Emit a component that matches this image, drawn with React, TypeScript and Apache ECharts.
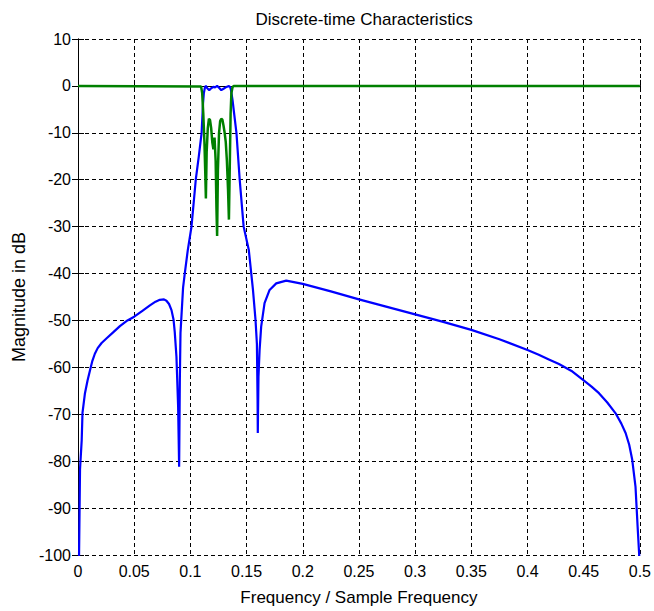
import React, { useEffect, useRef } from "react";
import * as echarts from "echarts";

const titleText = "Discrete-time Characteristics";
const xName = "Frequency / Sample Frequency";
const yName = "Magnitude in dB";

// Blue: filter magnitude response (dB)
const blueFreq = [
  0, 0.0018, 0.0033, 0.004, 0.0062, 0.0085, 0.0107, 0.0128, 0.015, 0.0175,
  0.021, 0.0255, 0.031, 0.0373, 0.044, 0.05, 0.057, 0.064, 0.069, 0.0728,
  0.0765, 0.0787, 0.081, 0.0832, 0.085, 0.0861, 0.0876, 0.0891, 0.09, 0.0906,
  0.0912, 0.0935, 0.095, 0.0977, 0.101, 0.1048, 0.1075, 0.11, 0.1113, 0.112,
  0.113, 0.1138, 0.115, 0.1168, 0.1185, 0.1205, 0.122, 0.1238, 0.1255, 0.1275,
  0.1295, 0.1315, 0.1343, 0.1355, 0.1362, 0.1375, 0.139, 0.141, 0.1439, 0.1474,
  0.152, 0.1557, 0.158, 0.1592, 0.1598, 0.16, 0.1606, 0.1616, 0.163, 0.166,
  0.1705, 0.1764, 0.1853, 0.2, 0.225, 0.25, 0.275, 0.3, 0.325, 0.35,
  0.375, 0.4, 0.41, 0.419, 0.428, 0.44, 0.4497, 0.457, 0.4636, 0.471,
  0.4784, 0.4835, 0.4873, 0.4905, 0.4932, 0.4961, 0.498, 0.4994, 0.5,
];
const blueMag = [
  -120, -81.7, -75.5, -69.7, -65.5, -62.8, -60.6, -58.6, -57.1, -55.9,
  -54.8, -53.8, -52.6, -51.2, -50, -49.2, -48, -46.8, -46, -45.6,
  -45.5, -45.8, -46.5, -47.8, -49.8, -52.5, -57.7, -68.4, -81.2, -63.3,
  -52.7, -43, -40, -35, -30, -20, -15, -10, -3.6, -1.5,
  -0.3, 0, -0.5, -0.9, -0.5, -0.2, -0.3, 0, -0.4, -0.9,
  -0.6, -0.3, 0, -0.3, -1, -3, -6, -10, -20, -30,
  -35, -43.5, -50, -55, -67, -74, -62, -56.3, -51.3, -46.3,
  -43.5, -42.1, -41.5, -42.2, -43.8, -45.5, -47.1, -48.7, -50.3, -52,
  -54, -56.3, -57.3, -58.3, -59.3, -60.9, -62.7, -64.1, -65.5, -67.5,
  -69.8, -72, -74, -76.5, -79.7, -85.4, -94, -100, -120,
];

// Green: reflection (dB)
const greenFreq = [
  0, 0.1095, 0.1105, 0.1115, 0.1125, 0.1132, 0.1138, 0.1145, 0.1155, 0.1165,
  0.1175, 0.1185, 0.1195, 0.1205, 0.1215, 0.1225, 0.1232, 0.1238, 0.1245, 0.1255,
  0.1265, 0.1275, 0.1285, 0.1295, 0.1305, 0.1315, 0.1325, 0.1335, 0.1343, 0.135,
  0.1358, 0.1365, 0.1375, 0.1385, 0.5,
];
const greenMag = [
  0, -0.1, -1.5, -6, -12, -18, -24, -14, -9, -7,
  -7.3, -9, -12, -13.5, -11, -16, -26, -32, -18, -10,
  -7.5, -7, -7.2, -8.5, -10, -12, -16, -22, -28.5, -18,
  -6, -1.5, -0.3, 0, 0,
];

export default function App() {
  const ref = useRef<HTMLDivElement>(null);
  useEffect(() => {
    const chart = echarts.init(ref.current!, null, { renderer: "svg" });
    const font = "'Liberation Sans', Arial, sans-serif";
    const blueData = blueFreq.map((f, i) => [f, blueMag[i]]);
    const greenData = greenFreq.map((f, i) => [f, greenMag[i]]);
    const axisLine = { show: true, lineStyle: { color: "#000", width: 1 } };
    const tick = { show: true, inside: true, length: 6, lineStyle: { color: "#000", width: 1 } };
    const split = { show: true, lineStyle: { color: "#000", width: 1, type: [4, 3] } };
    const labelStyle = { fontFamily: font, fontSize: 16, color: "#000" };
    chart.setOption({
      animation: false,
      backgroundColor: "#ffffff",
      title: {
        text: titleText,
        left: 359,
        top: 6,
        textAlign: "center",
        textStyle: { fontFamily: font, fontSize: 17, fontWeight: "normal", color: "#000" },
      },
      grid: { left: 78, right: 13, top: 39, bottom: 56 },
      xAxis: [
        {
          type: "value", min: 0, max: 0.5, interval: 0.05, position: "bottom",
          name: xName, nameLocation: "middle", nameGap: 34,
          nameTextStyle: { fontFamily: font, fontSize: 17, color: "#000" },
          axisLine, axisTick: tick,
          axisLabel: { ...labelStyle, margin: 8, formatter: (v: number) => String(+v.toFixed(2)) },
          splitLine: split,
        },
        {
          type: "value", min: 0, max: 0.5, interval: 0.05, position: "top",
          axisLine, axisTick: tick, axisLabel: { show: false }, splitLine: { show: false },
        },
      ],
      yAxis: [
        {
          type: "value", min: -100, max: 10, interval: 10, position: "left",
          name: yName, nameLocation: "middle", nameGap: 50,
          nameTextStyle: { fontFamily: font, fontSize: 18, color: "#000" },
          axisLine, axisTick: tick,
          axisLabel: { ...labelStyle, margin: 7 },
          splitLine: split,
        },
        {
          type: "value", min: -100, max: 10, interval: 10, position: "right",
          axisLine, axisTick: tick, axisLabel: { show: false }, splitLine: { show: false },
        },
      ],
      series: [
        {
          type: "line", data: blueData, xAxisIndex: 0, yAxisIndex: 0,
          symbol: "none", showSymbol: false, clip: true,
          lineStyle: { color: "#0000ff", width: 2.2 }, itemStyle: { color: "#0000ff" }, z: 3,
        },
        {
          type: "line", data: greenData, xAxisIndex: 0, yAxisIndex: 0,
          symbol: "none", showSymbol: false, clip: true,
          lineStyle: { color: "#008000", width: 2.5 }, itemStyle: { color: "#008000" }, z: 4,
        },
      ],
    });
    return () => chart.dispose();
  }, []);
  return <div ref={ref} style={{ position: "fixed", left: 0, top: 0, width: 654, height: 611 }} />;
}
